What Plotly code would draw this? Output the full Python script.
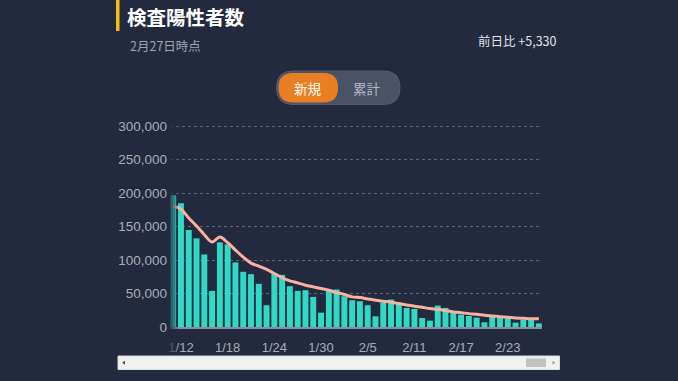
import plotly.graph_objects as go

# ---------------- data ----------------
dates = [f"1/{d}" for d in range(11, 32)] + [f"2/{d}" for d in range(1, 28)]
new_cases = [197000, 185000, 145000, 132500, 108500, 54000, 126500, 123500, 96500, 82500,
             79000, 64500, 32500, 80000, 78000, 61000, 54000, 55000, 45000, 21500,
             56500, 56000, 46000, 40000, 38500, 32500, 16000, 36500, 41000, 33500,
             28500, 27000, 13500, 9500, 32000, 28500, 21000, 18500, 16500, 14000,
             7000, 16000, 14500, 13500, 6500, 11000, 10500, 5330]
avg7 = [181000, 176000, 163000, 151000, 138000, 127000, 134500, 126000, 115000, 104500,
        95500, 91000, 86000, 80000, 73500, 69000, 66000, 62500, 60000, 57500,
        55000, 51500, 48500, 45000, 44000, 42000, 40000, 38500, 37000, 35000,
        33000, 31000, 29500, 27500, 26500, 24500, 22500, 21500, 20000, 19000,
        17500, 16500, 15500, 14500, 13500, 13000, 12500, 12500]
tick_labels = ["1/12", "1/18", "1/24", "1/30", "2/5", "2/11", "2/17", "2/23"]
y_ticks = [0, 50000, 100000, 150000, 200000, 250000, 300000]
title = "検査陽性者数"
subtitle = "2月27日時点"
diff_text = "前日比 +5,330"
toggle_labels = ["新規", "累計"]

# ---------------- layout geometry ----------------
W, H = 678, 381
L, R, T, B = 170, 136, 122, 54
PW = W - L - R
PH = H - T - B
Y0_PIX = H - B              # pixel row of value 0
Y300_PIX = 126.3            # pixel row of 300,000
YMAX = 300000 * (Y0_PIX - T) / (Y0_PIX - Y300_PIX)
BG = "#242a3e"
FONT = "Liberation Sans, Noto Sans CJK JP, sans-serif"
CJK = "Noto Sans CJK JP, sans-serif"


def px(x):
    return (x - L) / PW


def py(y):
    return (H - B - y) / PH


def rrect_path(x0, y0, x1, y1, r):
    pts = [
        ("M", [(x0 + r, y0)]),
        ("L", [(x1 - r, y0)]),
        ("Q", [(x1, y0), (x1, y0 + r)]),
        ("L", [(x1, y1 - r)]),
        ("Q", [(x1, y1), (x1 - r, y1)]),
        ("L", [(x0 + r, y1)]),
        ("Q", [(x0, y1), (x0, y1 - r)]),
        ("L", [(x0, y0 + r)]),
        ("Q", [(x0, y0), (x0 + r, y0)]),
    ]
    s = ""
    for cmd, ps in pts:
        s += cmd + " " + " ".join(f"{px(a):.5f},{py(b):.5f}" for a, b in ps) + " "
    return s + "Z"


fig = go.Figure()
fig.add_trace(go.Bar(x=dates, y=new_cases, marker=dict(color="#30d9c6", line=dict(width=0)),
                     hoverinfo="skip"))
fig.add_trace(go.Scatter(x=dates, y=avg7, mode="lines",
                         line=dict(color="#f7b2a0", width=3, shape="spline", smoothing=1.0),
                         hoverinfo="skip"))

shapes = []
# title accent bar
shapes.append(dict(type="rect", xref="paper", yref="paper", x0=px(116), x1=px(119.5),
                   y0=py(31), y1=py(0), fillcolor="#f2c10f", line=dict(width=0), layer="above"))
# toggle
shapes.append(dict(type="path", xref="paper", yref="paper", path=rrect_path(276.5, 71, 400, 104.5, 16.5),
                   fillcolor="#4a5265", line=dict(color="#555d70", width=1), layer="above"))
shapes.append(dict(type="path", xref="paper", yref="paper", path=rrect_path(278.5, 73, 338, 102.5, 14.5),
                   fillcolor="#e97f22", line=dict(width=0), layer="above"))
# left fade
for x0, x1, op in [(169, 171, 0.8), (171, 173, 0.65), (173, 175, 0.5), (175, 177, 0.3), (177, 178, 0.12)]:
    shapes.append(dict(type="rect", xref="paper", yref="paper", x0=px(x0), x1=px(x1),
                       y0=py(355), y1=py(118), fillcolor=BG, opacity=op,
                       line=dict(width=0), layer="above"))
# scrollbar
shapes.append(dict(type="rect", xref="paper", yref="paper", x0=px(118), x1=px(559.5),
                   y0=py(369.5), y1=py(356), fillcolor="#f1f1f1",
                   line=dict(color="#dcdcdc", width=1), layer="above"))
shapes.append(dict(type="rect", xref="paper", yref="paper", x0=px(526), x1=px(546),
                   y0=py(367), y1=py(358.5), fillcolor="#c1c1c1",
                   line=dict(width=0), layer="above"))
shapes.append(dict(type="path", xref="paper", yref="paper",
                   path=f"M {px(122):.5f},{py(362.8):.5f} L {px(125):.5f},{py(360.8):.5f} L {px(125):.5f},{py(364.8):.5f} Z",
                   fillcolor="#505050", line=dict(width=0), layer="above"))
shapes.append(dict(type="path", xref="paper", yref="paper",
                   path=f"M {px(555.5):.5f},{py(362.8):.5f} L {px(552.5):.5f},{py(360.8):.5f} L {px(552.5):.5f},{py(364.8):.5f} Z",
                   fillcolor="#a3a3a3", line=dict(width=0), layer="above"))

annotations = [
    dict(text=f"<b>{title}</b>", xref="paper", yref="paper", x=px(125), y=py(16),
         xanchor="left", yanchor="middle", showarrow=False,
         font=dict(family=CJK, size=19.5, color="#ffffff")),
    dict(text=subtitle, xref="paper", yref="paper", x=px(128), y=py(45),
         xanchor="left", yanchor="middle", showarrow=False,
         font=dict(family=CJK, size=12.5, color="#a0a4ae")),
    dict(text=diff_text, xref="paper", yref="paper", x=px(559), y=py(40),
         xanchor="right", yanchor="middle", showarrow=False,
         font=dict(family=CJK, size=12.5, color="#e0e2e8")),
    dict(text=toggle_labels[0], xref="paper", yref="paper", x=px(308), y=py(87.5),
         xanchor="center", yanchor="middle", showarrow=False,
         font=dict(family=CJK, size=13.5, color="#ffffff")),
    dict(text=toggle_labels[1], xref="paper", yref="paper", x=px(367), y=py(87.5),
         xanchor="center", yanchor="middle", showarrow=False,
         font=dict(family=CJK, size=13.5, color="#b4b8c2")),
]

fig.update_layout(
    width=W, height=H,
    margin=dict(l=L, r=R, t=T, b=B, pad=0),
    paper_bgcolor=BG, plot_bgcolor=BG,
    showlegend=False,
    bargap=0.24,
    shapes=shapes,
    annotations=annotations,
    xaxis=dict(type="category", range=[-0.41, 47.4], tickmode="array",
               tickvals=tick_labels, ticktext=tick_labels, showgrid=False,
               showline=True, linecolor="#8c909c", linewidth=1.5, ticks="",
               tickfont=dict(family=FONT, size=13, color="#a9adb7"), ticklabelstandoff=8,
               fixedrange=True, zeroline=False),
    yaxis=dict(range=[0, YMAX], tickvals=y_ticks, tickformat=",",
               showgrid=True, gridcolor="#5f6577", griddash="3px,3px", gridwidth=1,
               zeroline=False, showline=False, ticks="",
               tickfont=dict(family=FONT, size=13.5, color="#a9adb7"), ticklabelstandoff=2,
               fixedrange=True),
)

fig.write_html("out.html", config={"displayModeBar": False},
               post_script="document.body.style.margin='0';document.body.style.background='#242a3e';document.body.style.overflow='hidden';")
